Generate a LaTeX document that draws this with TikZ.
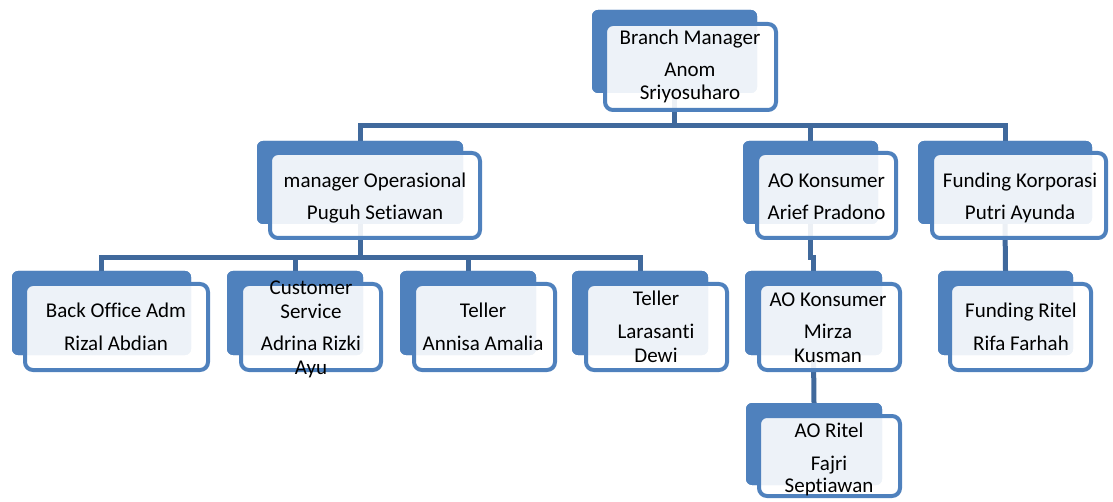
\documentclass[tikz,border=0pt]{standalone}
\usepackage{fontspec}
\setmainfont{Carlito}[Ligatures=NoCommon]
\definecolor{boxblue}{RGB}{79,129,189}
\definecolor{lineblue}{RGB}{64,105,156}
\begin{document}
\begin{tikzpicture}[x=1pt,y=-1pt,
  backbox/.style={fill=boxblue, rounded corners=6pt, inner sep=0pt, outer sep=0pt},
  frontbox/.style={draw=boxblue, line width=4pt, fill=white, fill opacity=0.9, rounded corners=8pt, inner sep=0pt, outer sep=0pt},
  txt/.style={font=\fontsize{21}{24}\selectfont, text=black, inner sep=0pt, anchor=base},
  conn/.style={draw=lineblue, line width=5pt}]
\useasboundingbox (0,0) rectangle (1113,502);

% back boxes (positions only, drawn later)
\path
 node[backbox, minimum width=165pt, minimum height=83pt] (bm-back) at (674.5,51.5) {}
 node[backbox, minimum width=206pt, minimum height=83pt] (op-back) at (360,182.5) {}
 node[backbox, minimum width=135pt, minimum height=83pt] (aok-back) at (810.5,182.5) {}
 node[backbox, minimum width=174pt, minimum height=83pt] (fk-back) at (1005,182.5) {}
 node[backbox, minimum width=179pt, minimum height=84pt] (bo-back) at (101.5,313) {}
 node[backbox, minimum width=136pt, minimum height=84pt] (cs-back) at (295,313) {}
 node[backbox, minimum width=136pt, minimum height=84pt] (ta-back) at (468,313) {}
 node[backbox, minimum width=136pt, minimum height=84pt] (tl-back) at (640,313) {}
 node[backbox, minimum width=137pt, minimum height=84pt] (mz-back) at (813.5,313) {}
 node[backbox, minimum width=135pt, minimum height=84pt] (fr-back) at (1005.5,313) {}
 node[backbox, minimum width=136pt, minimum height=82pt] (ar-back) at (814,444) {};

% connectors
\coordinate (bus1) at (674.5,126);
\coordinate (bus2) at (360,258);
\coordinate (jog) at (810.5,258);
\draw[conn] (bm-back.south) -- (bus1);
\draw[conn] (op-back.north) |- (bus1);
\draw[conn] (aok-back.north) |- (bus1);
\draw[conn] (fk-back.north) |- (bus1);
\draw[conn] (op-back.south) -- (bus2);
\draw[conn] (bo-back.north) |- (bus2);
\draw[conn] (cs-back.north) |- (bus2);
\draw[conn] (ta-back.north) |- (bus2);
\draw[conn] (tl-back.north) |- (bus2);
\draw[conn] (aok-back.south) -- (jog) -| (mz-back.north);
\draw[conn] (mz-back.south) -- (ar-back.north);
\draw[conn] (fk-back.south) -- (fr-back.north);

% redraw back boxes above connectors
\path
 node[backbox, minimum width=165pt, minimum height=83pt] at (674.5,51.5) {}
 node[backbox, minimum width=206pt, minimum height=83pt] at (360,182.5) {}
 node[backbox, minimum width=135pt, minimum height=83pt] at (810.5,182.5) {}
 node[backbox, minimum width=174pt, minimum height=83pt] at (1005,182.5) {}
 node[backbox, minimum width=179pt, minimum height=84pt] at (101.5,313) {}
 node[backbox, minimum width=136pt, minimum height=84pt] at (295,313) {}
 node[backbox, minimum width=136pt, minimum height=84pt] at (468,313) {}
 node[backbox, minimum width=136pt, minimum height=84pt] at (640,313) {}
 node[backbox, minimum width=137pt, minimum height=84pt] at (813.5,313) {}
 node[backbox, minimum width=135pt, minimum height=84pt] at (1005.5,313) {}
 node[backbox, minimum width=136pt, minimum height=82pt] at (814,444) {};

% front boxes
\node[frontbox, minimum width=171pt, minimum height=86pt] (bm) at (690.5,67) {};
\node[frontbox, minimum width=210pt, minimum height=85pt] (op) at (375,195.5) {};
\node[frontbox, minimum width=139pt, minimum height=85pt] (aok) at (826.5,195.5) {};
\node[frontbox, minimum width=174pt, minimum height=85pt] (fk) at (1019,195.5) {};
\node[frontbox, minimum width=183pt, minimum height=86pt] (bo) at (116.5,327) {};
\node[frontbox, minimum width=140pt, minimum height=86pt] (cs) at (311,327) {};
\node[frontbox, minimum width=141pt, minimum height=86pt] (ta) at (484.5,327) {};
\node[frontbox, minimum width=141pt, minimum height=86pt] (tl) at (656.5,327) {};
\node[frontbox, minimum width=141pt, minimum height=86pt] (mz) at (829.5,327) {};
\node[frontbox, minimum width=141pt, minimum height=86pt] (fr) at (1020.5,327) {};
\node[frontbox, minimum width=141pt, minimum height=80pt] (ar) at (829.5,456) {};

% texts
\node[txt] (bm-t1) at (690,45) {Branch Manager};
\node[txt] (bm-t2) at (690,77) {Anom};
\node[txt] (bm-t3) at (690,100) {Sriyosuharo};

\node[txt] (op-t1) at (375,188) {manager Operasional};
\node[txt] (op-t2) at (375,220) {Puguh Setiawan};

\node[txt] (aok-t1) at (826.5,188) {AO Konsumer};
\node[txt] (aok-t2) at (826.5,220) {Arief Pradono};

\node[txt] (fk-t1) at (1020,188) {Funding Korporasi};
\node[txt] (fk-t2) at (1020,220) {Putri Ayunda};

\node[txt] (bo-t1) at (116,318) {Back Office Adm};
\node[txt] (bo-t2) at (116,350) {Rizal Abdian};

\node[txt] (cs-t1) at (311,295) {Customer};
\node[txt] (cs-t2) at (311,319) {Service};
\node[txt] (cs-t3) at (311,350) {Adrina Rizki};
\node[txt] (cs-t4) at (311,374) {Ayu};

\node[txt] (ta-t1) at (483,318) {Teller};
\node[txt] (ta-t2) at (483,350) {Annisa Amalia};

\node[txt] (tl-t1) at (656,306) {Teller};
\node[txt] (tl-t2) at (656,338) {Larasanti};
\node[txt] (tl-t3) at (656,362) {Dewi};

\node[txt] (mz-t1) at (828,307) {AO Konsumer};
\node[txt] (mz-t2) at (828,338) {Mirza};
\node[txt] (mz-t3) at (828,362) {Kusman};

\node[txt] (fr-t1) at (1021,318) {Funding Ritel};
\node[txt] (fr-t2) at (1021,350) {Rifa Farhah};

\node[txt] (ar-t1) at (829,437) {AO Ritel};
\node[txt] (ar-t2) at (829,470) {Fajri};
\node[txt] (ar-t3) at (829,492) {Septiawan};
\end{tikzpicture}
\end{document}
